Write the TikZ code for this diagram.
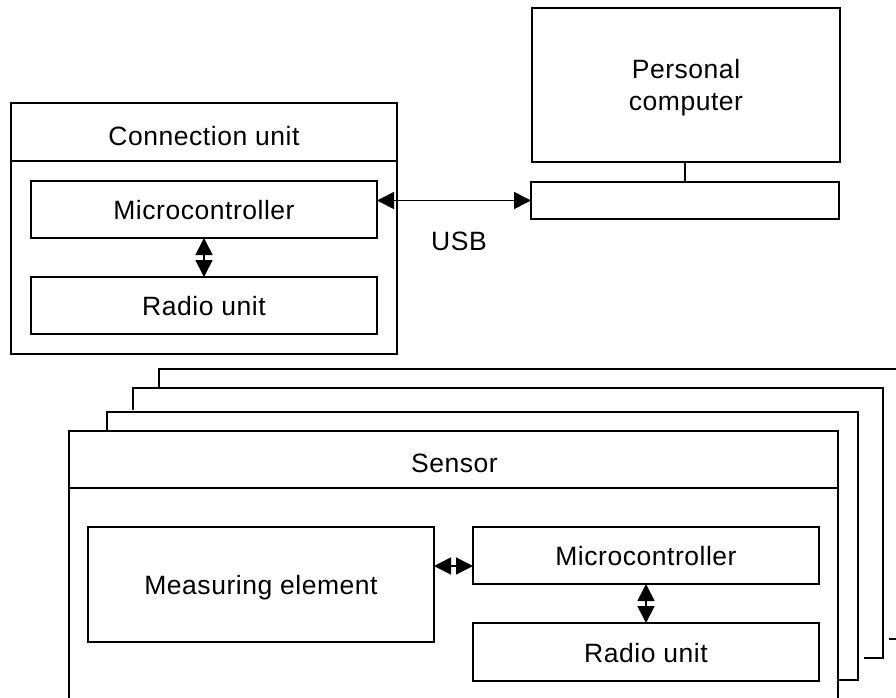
\documentclass[tikz,border=0pt]{standalone}
\usepackage{fontspec}
\setmainfont{Liberation Sans}[LetterSpace=2]
\usetikzlibrary{arrows.meta}
\begin{document}
\begin{tikzpicture}[x=1pt,y=-1pt,
  ln/.style={line width=1.7pt},
  box/.style={draw, ln, inner sep=0pt, outer sep=0pt, font=\fontsize{26.5}{32}\selectfont, text height=20pt, text depth=0pt},
  lbl/.style={inner sep=0pt, outer sep=0pt, font=\fontsize{26.5}{32}\selectfont, anchor=base},
  darr/.style={ln, {Triangle[length=17pt,width=17pt]}-{Triangle[length=17pt,width=17pt]}}
]
\clip (0,0) rectangle (896,698);
\fill[white] (0,0) rectangle (896,698);

% Connection unit
\node[box, minimum width=386pt, minimum height=251pt] (conn) at (204,228.5) {};
\draw[ln] ([yshift=-58pt]conn.north west) -- ([yshift=-58pt]conn.north east);
\node[lbl] (conntitle) at (204,145) {Connection unit};
\node[box, minimum width=346pt, minimum height=57pt] (cmcu) at (204,209.5) {Microcontroller};
\node[box, minimum width=346pt, minimum height=57pt] (crad) at (204,305.5) {Radio unit};
\draw[darr] (cmcu.south) -- (crad.north);

% Personal computer
\node[box, minimum width=308pt, minimum height=154pt] (pc) at (686,85) {};
\node[lbl, anchor=center, align=center] (pctext) at (686,87.5) {Personal\\computer};
\node[box, minimum width=308pt, minimum height=37pt] (pcbase) at (685,200.5) {};
\draw[ln] (pcbase.north) -- (pcbase.north |- pc.south);

% USB link
\draw[darr] (cmcu.east |- pcbase.west) -- (pcbase.west);
\node[lbl] (usb) at (459,250) {USB};

% stacked sensors behind
\draw[ln] (159,388) -- (159,369) -- (900,369);
\draw[ln] (889,639) -- (900,639);
\draw[ln] (133,410) -- (133,388) -- (883,388) -- (883,658) -- (864,658);
\draw[ln] (107,431) -- (107,412) -- (858,412) -- (858,680) -- (838,680);

% Sensor
\node[box, minimum width=769pt, minimum height=280pt] (sensor) at (453.5,571) {};
\draw[ln] ([yshift=-57pt]sensor.north west) -- ([yshift=-57pt]sensor.north east);
\node[lbl] (sensortitle) at (454.5,472) {Sensor};
\node[box, minimum width=346pt, minimum height=115pt] (meas) at (261,584.5) {Measuring element};
\node[box, minimum width=346pt, minimum height=57pt] (smcu) at (646,555.5) {Microcontroller};
\node[box, minimum width=346pt, minimum height=58pt] (srad) at (646,652) {Radio unit};
\coordinate (ma) at ([yshift=18.5pt]meas.east);
\draw[darr] (ma) -- (ma -| smcu.west);
\draw[darr] (smcu.south) -- (srad.north);
\end{tikzpicture}
\end{document}
